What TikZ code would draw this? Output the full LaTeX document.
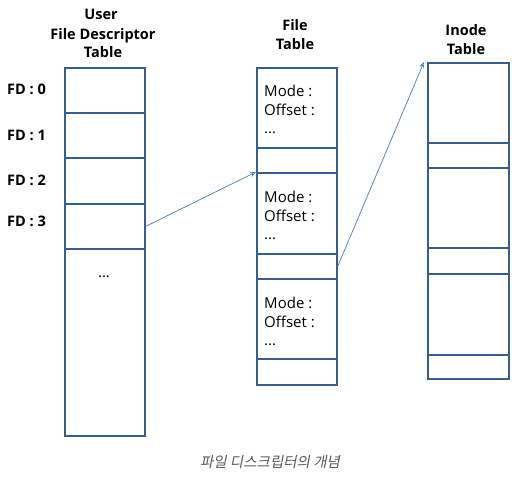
\documentclass[tikz,border=0pt]{standalone}
\usepackage{fontspec}
\setmainfont{Open Sans}
\newfontfamily\krfont[FakeSlant=0.2]{Noto Sans CJK KR}
\usetikzlibrary{arrows.meta}
\definecolor{boxc}{HTML}{385D8A}
\definecolor{arrc}{HTML}{4A7EBB}
\definecolor{capc}{HTML}{595959}
\begin{document}
\begin{tikzpicture}[x=1pt,y=-1pt,
  cell/.style={draw=boxc,line width=1.7pt,inner sep=0pt,anchor=north west,minimum width=80pt},
  hdr/.style={font=\fontsize{14.5}{19}\selectfont\bfseries,align=center,anchor=base,inner sep=0pt},
  fdl/.style={font=\fontsize{14.5}{17}\selectfont\bfseries,anchor=base west,inner sep=0pt},
  txt/.style={font=\fontsize{15}{19}\selectfont,anchor=base west,inner sep=0pt},
  conn/.style={draw=arrc,line width=0.7pt,-{Stealth[open,length=6pt,width=5pt]}}]
\useasboundingbox (0,0) rectangle (518,476);
% headers
\node[hdr] (h1a) at (101,20) {User};
\node[hdr] (h1b) at (103,39.5) {File Descriptor};
\node[hdr] (h1c) at (103,58) {Table};
\node[hdr] (h2a) at (295,31) {File};
\node[hdr] (h2b) at (295,49.5) {Table};
\node[hdr] (h3a) at (466,36) {Inode};
\node[hdr] (h3b) at (466,54.5) {Table};
% user fd table
\node[cell,minimum height=45pt] (u0) at (64,67) {};
\node[cell,minimum height=45pt] (u1) at (64,112) {};
\node[cell,minimum height=46pt] (u2) at (64,157) {};
\node[cell,minimum height=45pt] (u3) at (64,203) {};
\node[cell,minimum height=187pt] (u4) at (64,248) {};
\node[txt,anchor=base] (udots) at (104,277) {...};
\node[fdl] (fd0) at (7,95) {FD : 0};
\node[fdl] (fd1) at (7,140.5) {FD : 1};
\node[fdl] (fd2) at (7,185.5) {FD : 2};
\node[fdl] (fd3) at (7,226) {FD : 3};
% file table
\node[cell,minimum height=80pt] (f0) at (256,67) {};
\node[cell,minimum height=25pt] (f1) at (256,147) {};
\node[cell,minimum height=81pt] (f2) at (256,172) {};
\node[cell,minimum height=25pt] (f3) at (256,253) {};
\node[cell,minimum height=80pt] (f4) at (256,278) {};
\node[cell,minimum height=26pt] (f5) at (256,358) {};
\node[txt] (m0) at (264,96) {Mode :};
\node[txt] (o0) at (264,115) {Offset :};
\node[txt] (d0) at (264,133) {...};
\node[txt] (m1) at (264,202) {Mode :};
\node[txt] (o1) at (264,221) {Offset :};
\node[txt] (d1) at (264,239) {...};
\node[txt] (m2) at (264,308) {Mode :};
\node[txt] (o2) at (264,327) {Offset :};
\node[txt] (d2) at (264,345) {...};
% inode table
\node[cell,minimum width=81pt,minimum height=80pt] (i0) at (427,62) {};
\node[cell,minimum width=81pt,minimum height=25pt] (i1) at (427,142) {};
\node[cell,minimum width=81pt,minimum height=80pt] (i2) at (427,167) {};
\node[cell,minimum width=81pt,minimum height=26pt] (i3) at (427,247) {};
\node[cell,minimum width=81pt,minimum height=81pt] (i4) at (427,273) {};
\node[cell,minimum width=81pt,minimum height=24pt] (i5) at (427,354) {};
% arrows
\draw[conn] (u3.east) -- (f2.north west);
\draw[conn] (f3.east) -- ([xshift=-3pt]i0.north west);
% caption
\node[font=\krfont\fontsize{14.5}{17}\selectfont,text=capc,anchor=base,inner sep=0pt] (cap) at (270,467) {파일 디스크립터의 개념};
\end{tikzpicture}
\end{document}
